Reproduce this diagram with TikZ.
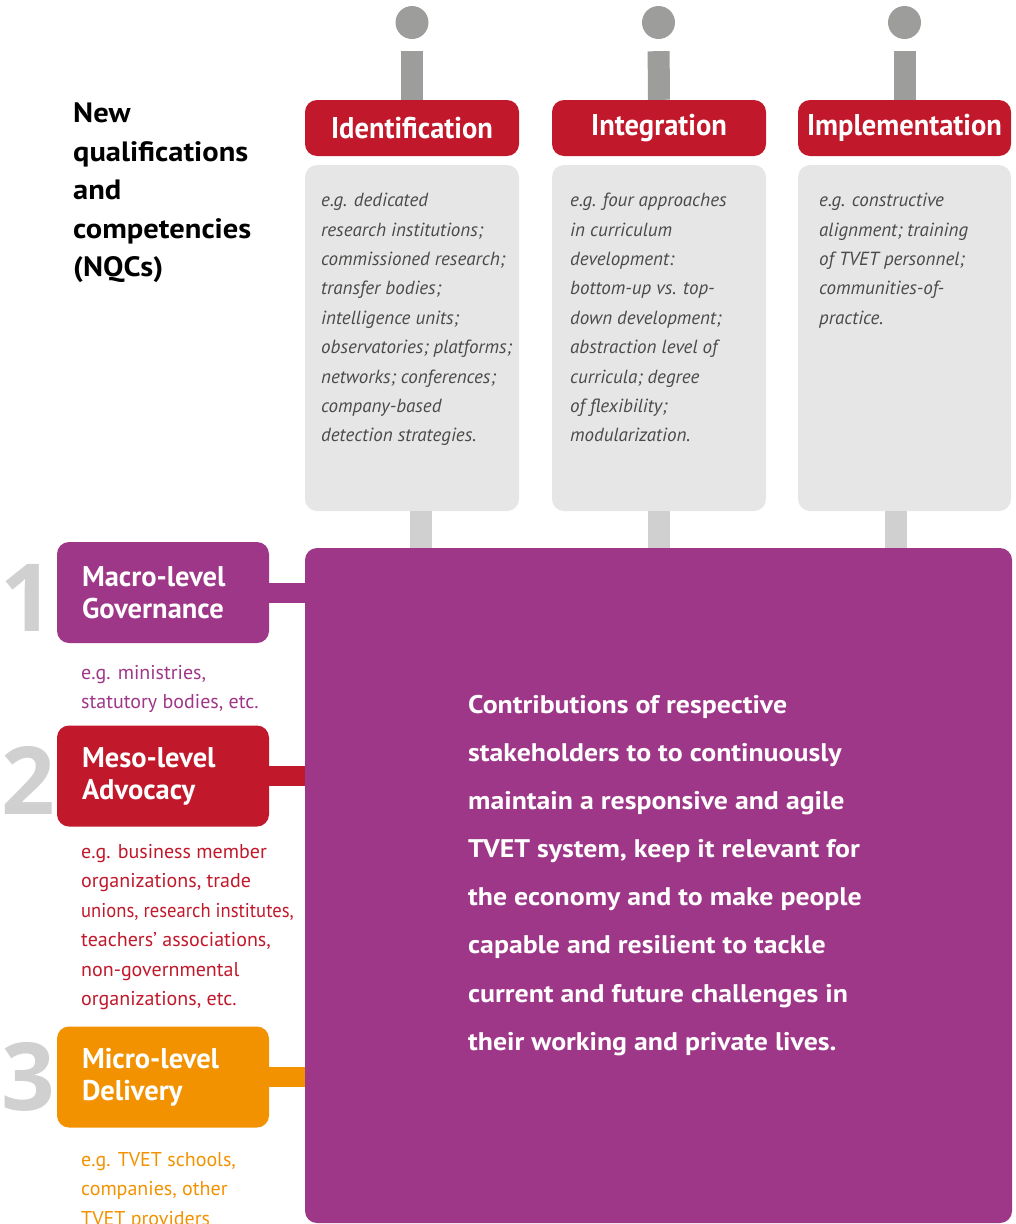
\documentclass[tikz,border=0pt]{standalone}
\usepackage{fontspec}
\setmainfont{PT Sans}
\newfontfamily\condfont[FakeStretch=0.95]{PT Sans}
\newfontfamily\wideb[FakeStretch=1.09]{PT Sans}
\newfontfamily\numfont{Open Sans}
\definecolor{vpurple}{HTML}{9F3789}
\definecolor{vred}{HTML}{C1182B}
\definecolor{vorange}{HTML}{F39200}
\definecolor{boxgray}{HTML}{E6E6E6}
\definecolor{stemgray}{HTML}{9D9D9C}
\definecolor{stubgray}{HTML}{D0D0D0}
\definecolor{numgray}{HTML}{D0D0D0}
\definecolor{txtgray}{HTML}{4A4A49}
\begin{document}
\begin{tikzpicture}[x=1pt,y=1pt,
  hdr/.style={fill=vred, rounded corners=12pt, minimum width=214pt, minimum height=56pt, inner sep=0pt, text=white, font=\condfont\bfseries\fontsize{30}{34}\selectfont},
  graybox/.style={fill=boxgray, rounded corners=12pt, minimum width=214pt, minimum height=346pt, inner sep=0pt},
  grytxt/.style={anchor=north west, inner sep=0pt, align=left, text=txtgray, font=\itshape\fontsize{19}{29.4}\selectfont},
  topdot/.style={circle, fill=stemgray, minimum size=33pt, inner sep=0pt},
  stemline/.style={line width=22pt, draw=stemgray, shorten <=12pt},
  stubline/.style={line width=22pt, draw=stubgray},
  lvl/.style={rounded corners=12pt, minimum width=212pt, minimum height=101pt, text width=162pt, inner xsep=25pt, inner ysep=0pt, align=left, text=white, font=\bfseries\fontsize{28.5}{32}\selectfont},
  descr/.style={anchor=north west, inner sep=0pt, align=left, font=\fontsize{20}{29.5}\selectfont},
  bignum/.style={text=numgray, font=\numfont\bfseries\fontsize{94}{94}\selectfont, inner sep=0pt},
  levelbar/.style={line width=20pt}
]
\useasboundingbox (0,0) rectangle (1016,-1224);

% heading
\node[anchor=north west, inner sep=0pt, align=left, font=\wideb\bfseries\fontsize{28}{38.5}\selectfont] (nqc) at (73,-103)
  {New\\qualifications\\and\\competencies\\(NQCs)};

% top dots
\node[topdot] (c1) at (412,-22.5) {};
\node[topdot] (c2) at (658.5,-22.5) {};
\node[topdot] (c3) at (904.5,-22.5) {};

% headers
\node[hdr] (h1) at (412,-128) {Identification};
\node[hdr] (h2) at (659,-128) {Integration};
\node[hdr, minimum width=213pt] (h3) at (904.5,-128) {Implementation};

\draw[stemline] (c1.south) -- (h1.north);
\draw[stemline] (c2.south) -- (h2.north);
\draw[stemline] (c3.south) -- (h3.north);

% gray boxes
\node[graybox] (g1) at (412,-338) {};
\node[graybox] (g2) at (659,-338) {};
\node[graybox, minimum width=213pt] (g3) at (904.5,-338) {};

\node[grytxt] (t1) at (321,-193) {e.g. dedicated\\research institutions;\\commissioned research;\\transfer bodies;\\intelligence units;\\observatories; platforms;\\networks; conferences;\\company-based\\detection strategies.};
\node[grytxt] (t2) at (570,-193) {e.g. four approaches\\in curriculum\\development:\\bottom-up vs. top-\\down development;\\abstraction level of\\curricula; degree\\of flexibility;\\modularization.};
\node[grytxt] (t3) at (819,-193) {e.g. constructive\\alignment; training\\of TVET personnel;\\communities-of-\\practice.};

% big purple box
\node[fill=vpurple, rounded corners=12pt, minimum width=707pt, minimum height=675pt, inner sep=0pt] (big) at (658.5,-885.5) {};

\draw[stubline] ([xshift=9pt]g1.south) -- ([xshift=9pt]g1.south |- big.north);
\draw[stubline] (g2.south) -- (g2.south |- big.north);
\draw[stubline] ([xshift=-8.5pt]g3.south) -- ([xshift=-8.5pt]g3.south |- big.north);

\node[anchor=north west, inner sep=0pt, align=left, text=white, font=\wideb\bfseries\fontsize{25.5}{48.1}\selectfont] (msg) at (468,-695)
  {Contributions of respective\\stakeholders to to continuously\\maintain a responsive and agile\\TVET system, keep it relevant for\\the economy and to make people\\capable and resilient to tackle\\current and future challenges in\\their working and private lives.};

% big numbers
\node[bignum] (n1) at (27,-598) {1};
\node[bignum] (n2) at (28,-780) {2};
\node[bignum] (n3) at (28,-1077) {3};

% level boxes
\node[lvl, fill=vpurple] (b1) at (163,-592.5) {Macro-level\\Governance};
\node[lvl, fill=vred] (b2) at (163,-776) {Meso-level\\Advocacy};
\node[lvl, fill=vorange] (b3) at (163,-1077) {Micro-level\\Delivery};

\draw[levelbar, vpurple] (b1.east) -- (b1.east -| big.west);
\draw[levelbar, vred] (b2.east) -- (b2.east -| big.west);
\draw[levelbar, vorange] (b3.east) -- (b3.east -| big.west);

% descriptions
\node[descr, text=vpurple] (d1) at (81,-665) {e.g. ministries,\\statutory bodies, etc.};
\node[descr, text=vred] (d2) at (81,-844) {e.g. business member\\organizations, trade\\\scalebox{0.93}[1]{unions, research institutes,}\\teachers' associations,\\non-governmental\\organizations, etc.};
\node[descr, text=vorange] (d3) at (81,-1152) {e.g. TVET schools,\\companies, other\\TVET providers};
\end{tikzpicture}
\end{document}
